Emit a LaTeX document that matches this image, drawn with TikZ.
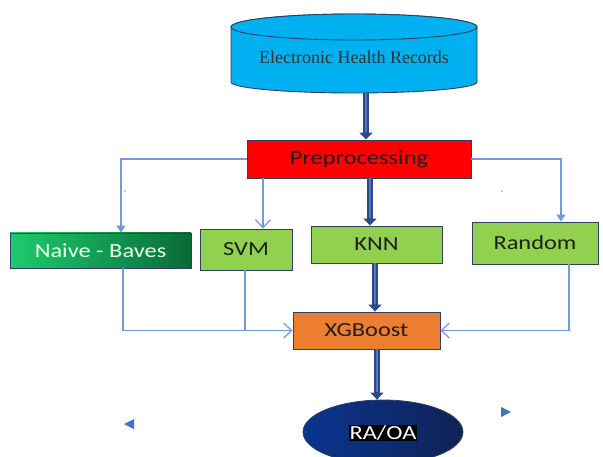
\documentclass[tikz,border=0pt]{standalone}
\usepackage{fontspec}
\setmainfont{Carlito}[FakeStretch=1.22]
\newfontfamily\serifEHR{Liberation Serif}
\usetikzlibrary{arrows.meta,shapes.geometric}
\definecolor{thinblue}{HTML}{7399D9}
\definecolor{darkedge}{HTML}{2F3F5F}
\definecolor{bigdark}{HTML}{2C4A86}
\definecolor{biglight}{HTML}{4F76C2}
\definecolor{cyanfill}{HTML}{00B0F0}
\definecolor{limegreen}{HTML}{92D050}
\definecolor{orangefill}{HTML}{ED7D31}
\definecolor{tri}{HTML}{4472C4}
\definecolor{nbleft}{HTML}{1DCB6E}
\definecolor{nbright}{HTML}{0A6B38}
\definecolor{elleft}{HTML}{0A3590}
\definecolor{elright}{HTML}{0F2356}
\tikzset{
  box/.style={draw=darkedge, line width=0.9pt, font=\fontsize{20}{22}\selectfont, text=black!88, inner sep=0pt},
  thin/.style={draw=thinblue, line width=1.2pt},
  filledtip/.style={-{Triangle[width=9pt,length=7pt]}},
  opentip/.style={-{Straight Barb[width=15pt,length=8pt,line width=1.2pt]}},
  bigarrow/.style={line width=6.5pt, draw=bigdark, -{Triangle[length=7pt,width=13pt]},
    postaction={draw=biglight, line width=2.8pt, -, shorten >=8pt}},
}
\begin{document}
\begin{tikzpicture}[x=1pt,y=1pt]
\useasboundingbox (0,0) rectangle (603,456);
% cylinder
\path[fill=cyanfill, draw=darkedge, line width=0.9pt]
  (231,429) -- (231,374) arc[start angle=180,end angle=360,x radius=123pt,y radius=11pt]
  -- (477,429) arc[start angle=0,end angle=180,x radius=123pt,y radius=13pt] -- cycle;
\draw[fill=cyanfill, draw=darkedge, line width=0.9pt] (354,429) ellipse[x radius=123pt, y radius=13pt];
\node[font=\serifEHR\fontsize{18}{20}\selectfont, text=black!80] (ehr) at (354,399) {Electronic Health Records};
\coordinate (ehrb) at (366,363);
% boxes
\node[box, fill=red, minimum width=224pt, minimum height=38pt] (pre) at (359,297) {Preprocessing};
\node[box, left color=nbleft, right color=nbright, minimum width=181pt, minimum height=35pt, text=white!92!green] (nb) at (100.5,205.5) {Naive - Baves};
\node[box, fill=limegreen, minimum width=92pt, minimum height=41pt] (svm) at (246,206.5) {SVM};
\node[box, fill=limegreen, minimum width=131pt, minimum height=37pt] (knn) at (376.5,211.5) {KNN};
\node[box, fill=limegreen, minimum width=126pt, minimum height=42pt] (rnd) at (535,213) {Random};
\node[box, fill=orangefill, minimum width=147pt, minimum height=37pt] (xgb) at (366.5,125.5) {XGBoost};
\node[ellipse, draw=darkedge, line width=0.8pt, left color=elleft, right color=elright, minimum width=160pt, minimum height=64pt] (ell) at (383,24) {};
\node[fill=black, text=white, font=\fontsize{20}{22}\selectfont, inner sep=1pt] (raoa) at (383,23) {RA/OA};
% coordinates for connectors
\coordinate (cnb) at (121,0);
\coordinate (csvm) at (263,0);
\coordinate (cknn) at (370,0);
\coordinate (crnd) at (561,0);
\coordinate (cnbb) at (123,0);
\coordinate (csvmb) at (245,0);
\coordinate (crndb) at (569,0);
\coordinate (ckx) at (375,0);
\coordinate (cxe) at (377,0);
% thick arrows
\draw[bigarrow] (ehrb) -- (pre.north -| ehrb);
\draw[bigarrow] (pre.south -| cknn) -- (knn.north -| cknn);
\draw[bigarrow] (knn.south -| ckx) -- (xgb.north -| ckx);
\draw[bigarrow] (xgb.south -| cxe) -- (ell.north -| cxe);
% thin connectors
\draw[thin, filledtip] (pre.west) -| (nb.north -| cnb);
\draw[thin, opentip] (pre.south -| csvm) -- (svm.north -| csvm);
\draw[thin, filledtip] (pre.east) -| (rnd.north -| crnd);
\draw[thin, opentip] (nb.south -| cnbb) |- (xgb.west);
\draw[thin] (svm.south -| csvmb) -- (xgb.west -| csvmb);
\draw[thin, opentip] (rnd.south -| crndb) |- (xgb.east);
% specks
\fill[thinblue] (125,265) circle (0.8pt);
\fill[thinblue] (502,265) circle (0.8pt);
% triangles
\fill[tri] (124,32) -- (134,37) -- (134,27) -- cycle;
\fill[tri] (511,44) -- (501,49) -- (501,39) -- cycle;
\end{tikzpicture}
\end{document}
